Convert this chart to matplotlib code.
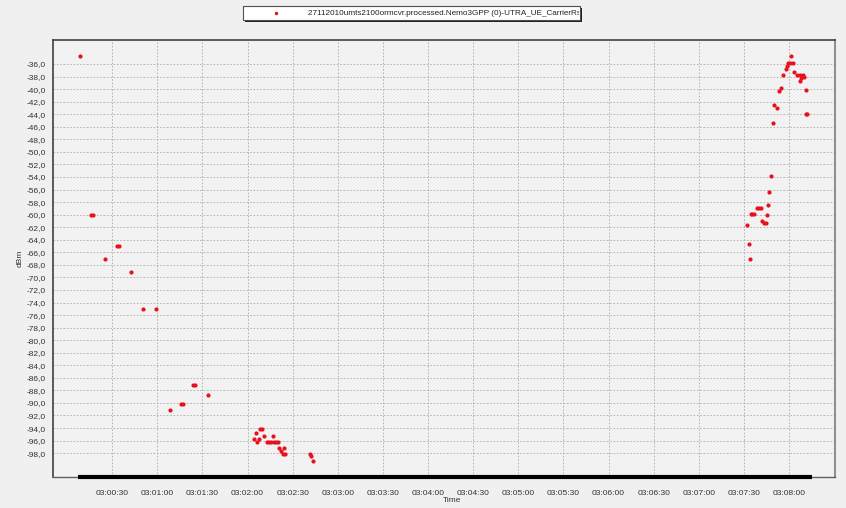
import pandas as pd
import matplotlib
matplotlib.use("Agg")
import matplotlib.pyplot as plt
import matplotlib.dates as mdates
from matplotlib.patches import Rectangle
from matplotlib.transforms import Bbox, TransformedBbox

plt.rcParams['font.family'] = ['Liberation Sans', 'DejaVu Sans']

# Muestras RSSI (segundos desde 03:00:00, dBm)
seconds = [8.3, 16.0, 17.5, 25.3, 33.5, 34.8, 42.6, 50.6, 59.3, 68.2,
           76.0, 77.3, 84.0, 85.2, 93.4, 124.2, 125.4, 126.2, 127.6, 128.3,
           129.6, 130.9, 132.7, 134.2, 135.7, 137.0, 137.3, 138.8, 140.4, 141.0,
           142.0, 143.3, 144.0, 144.8, 161.3, 162.1, 163.5,
           452.1, 453.4, 454.1, 454.5, 455.7, 457.0, 458.5, 460.0, 461.6,
           462.3, 463.6, 464.5, 465.4, 465.8, 466.9, 468.0, 469.1, 470.2,
           471.8, 473.6, 474.7, 476.2, 477.8, 478.5, 479.5, 481.1, 481.0,
           482.4, 483.3, 485.6, 487.0, 487.5, 487.8, 489.4, 490.1, 491.2,
           491.3, 492.2]
rssi = [-34.8, -60.0, -60.0, -67.1, -65.0, -65.0, -69.1, -75.0, -75.0, -91.2,
        -90.2, -90.2, -87.2, -87.2, -88.7, -95.8, -94.8, -96.3, -95.8, -94.2,
        -94.2, -95.3, -96.2, -96.2, -96.2, -95.3, -96.2, -96.2, -96.2, -97.2,
        -97.6, -98.1, -97.1, -98.2, -98.1, -98.5, -99.3,
        -61.7, -64.6, -67.1, -59.9, -59.9, -59.9, -59.0, -59.0, -59.0,
        -61.0, -61.4, -61.4, -60.0, -58.5, -56.4, -53.9, -45.4, -42.6,
        -43.0, -40.3, -39.9, -37.8, -36.8, -36.3, -35.8, -34.8, -35.8,
        -35.8, -37.3, -37.8, -37.8, -38.7, -38.3, -37.8, -38.0, -40.2,
        -43.9, -43.9]

serie = "27112010umts2100ormcvr.processed.Nemo3GPP (0)-UTRA_UE_CarrierRssi"
y_ticks = list(range(-36, -99, -2))

base = pd.Timestamp("2010-11-27 03:00:00")
t = base + pd.to_timedelta(seconds, unit="s")

fig = plt.figure(figsize=(8.46, 5.08), dpi=100, facecolor="#f0f0f0")
ax = fig.add_axes([0.0626, 0.061, 0.9244, 0.860])
ax.set_facecolor("#f2f2f2")

ax.plot(t, rssi, linestyle="none", marker="o", markersize=3,
        color="#e8101a", markeredgewidth=0)

ylo, yhi = -101.8, -32.2
ax.set_ylim(ylo, yhi)
ax.set_xlim(base + pd.Timedelta(seconds=-9.4), base + pd.Timedelta(seconds=510.6))

# barra de rango temporal sobre el eje inferior
ax.plot([t.min() - pd.Timedelta(seconds=1), t.max() + pd.Timedelta(seconds=3)],
        [ylo, ylo], color="black", lw=3, solid_capstyle="butt", clip_on=False, zorder=5)

ax.set_yticks(y_ticks)
ax.set_yticklabels([f"{v:.1f}".replace(".", ",") for v in y_ticks])
ax.xaxis.set_major_formatter(mdates.DateFormatter("%H:%M:%S"))
ax.set_xticks([base + pd.Timedelta(seconds=s) for s in range(30, 481, 30)])

ax.tick_params(axis="both", labelsize=6, colors="#333333", length=0)
ax.tick_params(axis="x", pad=9)
ax.tick_params(axis="y", pad=5)
ax.grid(True, color="#ababab", linestyle=(0, (2, 2)), linewidth=0.6)

for side in ["left", "top"]:
    ax.spines[side].set_color("#404040")
    ax.spines[side].set_linewidth(1.2)
ax.spines["right"].set_color("#909090")
ax.spines["right"].set_linewidth(1.5)
ax.spines["bottom"].set_color("#606060")
ax.spines["bottom"].set_linewidth(1.0)

ax.set_xlabel("Time", fontsize=6, color="#333333", labelpad=1)
ax.set_ylabel("dBm", fontsize=6, color="#333333", labelpad=2)
ax.xaxis.set_label_coords(0.51, -0.045)

# leyenda con sombra
W, H = 846, 508
x0, x1, y0, y1 = 243, 580, 6, 20
fig.add_artist(Rectangle((x0 / W + 2 / W, 1 - y1 / H - 2 / H), (x1 - x0) / W, (y1 - y0) / H,
                         transform=fig.transFigure, facecolor="#202020", edgecolor="none"))
box = Rectangle((x0 / W, 1 - y1 / H), (x1 - x0) / W, (y1 - y0) / H,
                transform=fig.transFigure, facecolor="white", edgecolor="#505050", lw=0.8)
fig.add_artist(box)
fig.add_artist(plt.Line2D([276 / W], [1 - 13 / H], transform=fig.transFigure,
                          marker="o", markersize=2.5, color="#e8101a", markeredgewidth=0))
txt = fig.text(308 / W, 1 - 13.5 / H, serie, fontsize=5.9, color="#222222",
               va="center", ha="left")
txt.set_clip_box(TransformedBbox(Bbox([[x0 / W, 1 - y1 / H], [(x1 - 1) / W, 1 - y0 / H]]),
                                 fig.transFigure))
txt.set_clip_on(True)

fig.savefig("out.png", dpi=100, facecolor=fig.get_facecolor())
